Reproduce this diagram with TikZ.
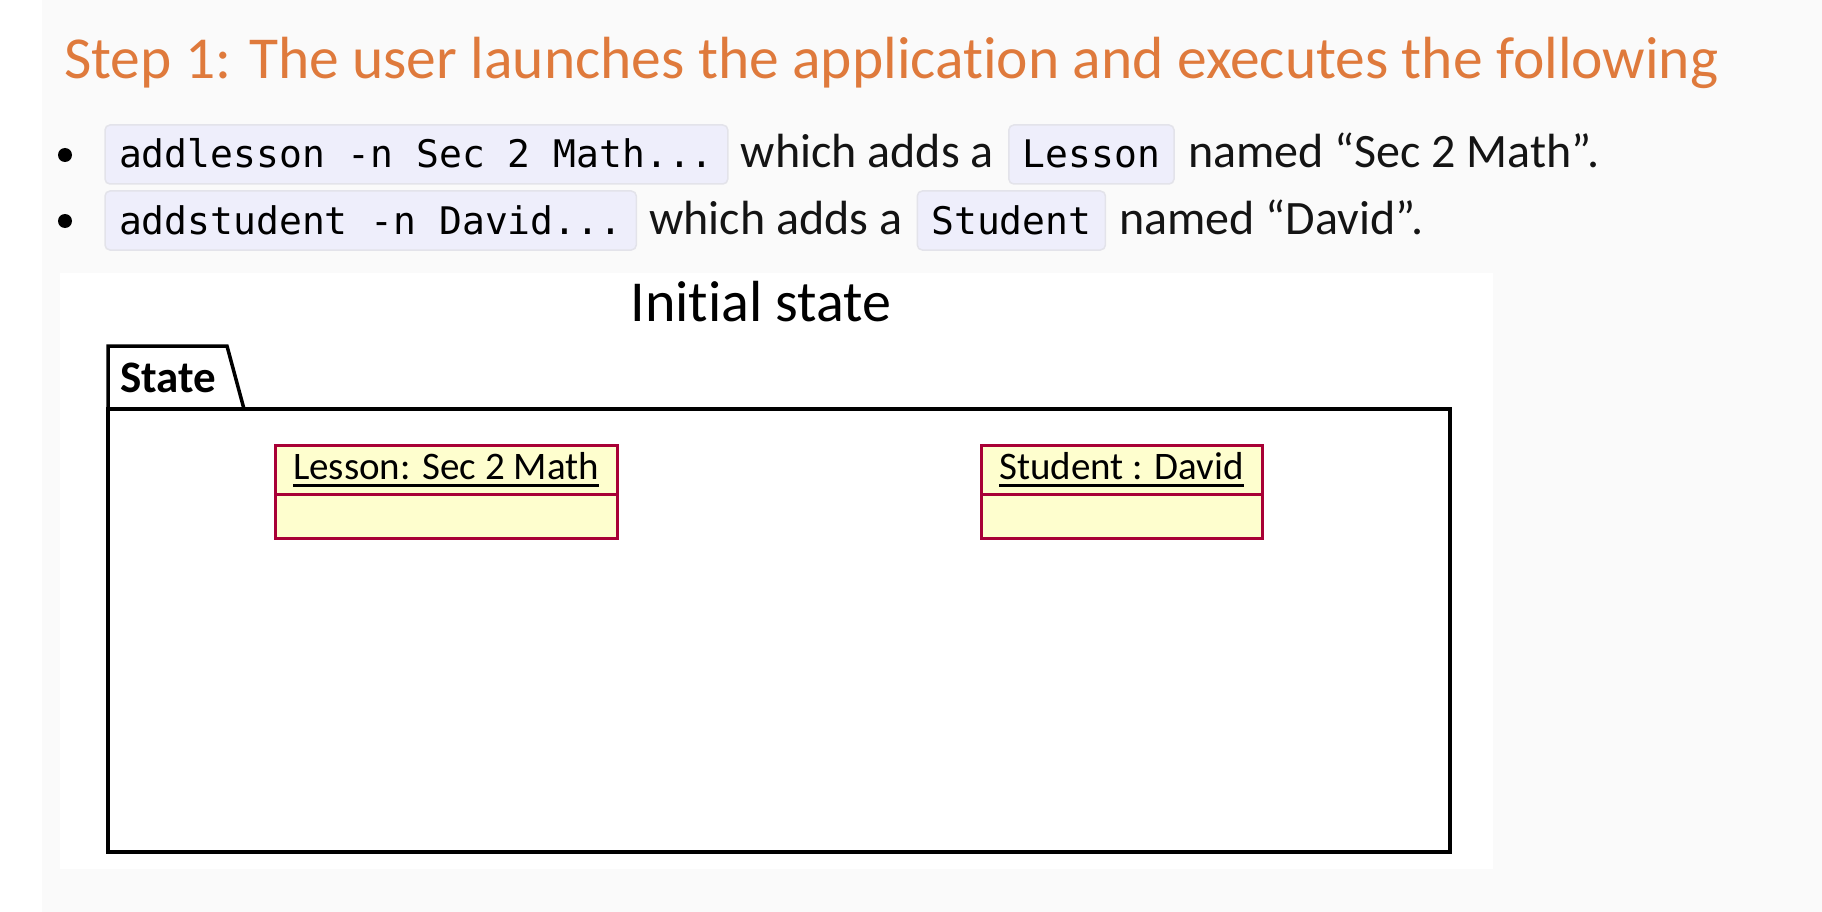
\documentclass[tikz,border=0pt]{standalone}
\usepackage{fontspec}
\setmainfont{Carlito}[Ligatures=NoCommon]
\setmonofont{DejaVu Sans Mono}
\usetikzlibrary{positioning}
\definecolor{pagegray}{HTML}{FAFAFA}
\definecolor{steporange}{HTML}{DF7A3C}
\definecolor{codefill}{HTML}{EEEEFB}
\definecolor{codeline}{HTML}{E3E3EA}
\definecolor{umlfill}{HTML}{FEFECE}
\definecolor{umlline}{HTML}{A80036}
\newcommand{\umlname}[1]{\setbox0\hbox{#1}\rlap{\rule[-7pt]{\wd0}{2.5pt}}\box0}

\begin{document}
\begin{tikzpicture}[x=1pt,y=-1pt,
  txt/.style={inner sep=0pt,outer sep=0pt,text=black!92,font=\fontsize{48pt}{56pt}\selectfont},
  code/.style={draw=codeline,fill=codefill,line width=1.5pt,rounded corners=5pt,outer sep=0pt,inner xsep=14pt,inner ysep=14pt,text height=29pt,text depth=2pt,font=\ttfamily\fontsize{38pt}{44pt}\selectfont},
  bullet/.style={circle,fill=black,inner sep=0pt,minimum size=14pt},
  classhead/.style={draw=umlline,fill=umlfill,line width=3pt,outer sep=0pt,inner sep=0pt,minimum height=49pt,font=\fontsize{39pt}{46pt}\selectfont},
  classbody/.style={draw=umlline,fill=umlfill,line width=3pt,outer sep=0pt,inner sep=0pt,minimum height=44pt}]
\fill[white] (0,0) rectangle (1822,912);
\fill[pagegray] (42,0) rectangle (1822,912);
\node[anchor=base west,inner sep=0pt,text=steporange,font=\fontsize{59.5pt}{68pt}\selectfont] (stepTitle) at (64,79) {Step 1: The user launches the application and executes the following};

\node[bullet] (dotLesson) at (65,155) {};
\node[code,anchor=base west] (cmdLesson) at (105,168) {addlesson -n Sec 2 Math...};
\node[txt,base right=13pt of cmdLesson] (addsLesson) {which adds a};
\node[code,base right=15pt of addsLesson] (typeLesson) {Lesson};
\node[txt,base right=14pt of typeLesson] (nameLesson) {named “Sec 2 Math”.};

\node[bullet] (dotStudent) at (65,221) {};
\node[code,anchor=base west] (cmdStudent) at (105,234) {addstudent -n David...};
\node[txt,base right=13pt of cmdStudent] (addsStudent) {which adds a};
\node[code,base right=15pt of addsStudent] (typeStudent) {Student};
\node[txt,base right=14pt of typeStudent] (nameStudent) {named “David”.};

\fill[white] (60,273) rectangle (1493,869);
\node[font=\fontsize{58pt}{66pt}\selectfont] (diagTitle) at (761,302) {Initial state};
\node[draw,line width=3.5pt,fill=white,outer sep=0pt,minimum width=1342pt,minimum height=443pt,anchor=north west] (pkg) at (108,409) {};
\draw[line width=3.5pt] (pkg.north west) -- ++(0,-63) -- ++(119,0) -- ([xshift=136pt]pkg.north west);
\node[anchor=base west,inner sep=0pt,font=\bfseries\fontsize{45pt}{52pt}\selectfont] (pkgName) at (120,392) {State};

\node[classhead,minimum width=342pt,anchor=north west] (lessonHead) at (275,445) {\umlname{Lesson: Sec 2 Math}};
\node[classbody,minimum width=342pt,below=0pt of lessonHead] (lessonBody) {};
\node[classhead,minimum width=281pt,anchor=north west] (studentHead) at (981,445) {\umlname{Student : David}};
\node[classbody,minimum width=281pt,below=0pt of studentHead] (studentBody) {};
\end{tikzpicture}
\end{document}
